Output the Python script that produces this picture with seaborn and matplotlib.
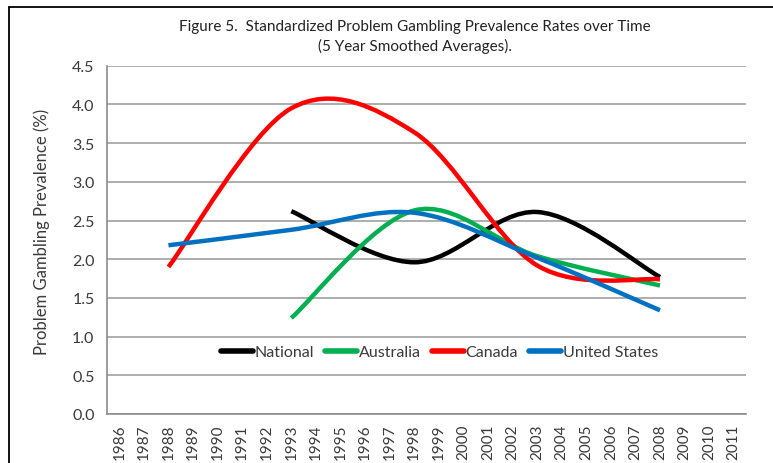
import numpy as np
import pandas as pd
import matplotlib
matplotlib.use("Agg")
import matplotlib.pyplot as plt
import seaborn as sns
from matplotlib.path import Path
from matplotlib.patches import PathPatch
from matplotlib.lines import Line2D
from matplotlib.ticker import FixedLocator

# ---- data ----
axis_years = list(range(1986, 2012))
survey_years = [1988, 1993, 1998, 2003, 2008]
national = [np.nan, 2.62, 1.96, 2.61, 1.77]
australia = [np.nan, 1.24, 2.63, 2.04, 1.66]
canada = [1.90, 3.95, 3.64, 1.92, 1.74]
united_states = [2.18, 2.38, 2.60, 2.02, 1.34]
y_ticks = [0.0, 0.5, 1.0, 1.5, 2.0, 2.5, 3.0, 3.5, 4.0, 4.5]
series_names = ["National", "Australia", "Canada", "United States"]
series_colors = ["#000000", "#00B050", "#FF0000", "#0070C0"]
title_text = "Figure 5.  Standardized Problem Gambling Prevalence Rates over Time\n(5 Year Smoothed Averages)."
ylabel_text = "Problem Gambling Prevalence (%)"

rows = []
for name, vals in zip(series_names, [national, australia, canada, united_states]):
    for yr, v in zip(survey_years, vals):
        if not np.isnan(v):
            rows.append({"year": yr, "value": v, "series": name})
df = pd.DataFrame(rows)

sns.set_theme(style="white")
plt.rcParams["font.family"] = ["Lato", "DejaVu Sans"]
text_color = "#3a3a3a"

W, H = 773, 464
fig = plt.figure(figsize=(W / 100, H / 100), dpi=100)
ax = fig.add_axes([107 / W, 1 - 415 / H, (746 - 107) / W, (415 - 66.7) / H])

palette = dict(zip(series_names, series_colors))
sns.lineplot(data=df, x="year", y="value", hue="series", hue_order=series_names,
             palette=palette, linewidth=3.2, legend=False, ax=ax, sort=True)


def smooth_path(pts):
    pts = np.asarray(pts, dtype=float)
    n = len(pts)
    verts = [pts[0]]
    codes = [Path.MOVETO]
    for i in range(n - 1):
        p0 = pts[i - 1] if i > 0 else pts[i]
        p1 = pts[i]
        p2 = pts[i + 1]
        p3 = pts[i + 2] if i + 2 < n else pts[i + 1]
        c1 = p1 + (p2 - p0) / 6.0
        c2 = p2 - (p3 - p1) / 6.0
        verts += [c1, c2, p2]
        codes += [Path.CURVE4] * 3
    return Path(verts, codes)


for line in list(ax.lines):
    xy = line.get_xydata()
    col = line.get_color()
    lw = line.get_linewidth()
    line.set_visible(False)
    patch = PathPatch(smooth_path(xy), facecolor="none", edgecolor=col,
                      linewidth=lw, capstyle="butt", joinstyle="round", zorder=3)
    ax.add_patch(patch)

# axes styling
ax.set_xlim(axis_years[0] - 0.5, axis_years[-1] + 0.5)
ax.set_ylim(0, 4.5)
ax.yaxis.set_major_locator(FixedLocator(y_ticks))
ax.set_yticklabels([f"{v:.1f}" for v in y_ticks])
ax.xaxis.set_major_locator(FixedLocator(axis_years))
ax.set_xticklabels([str(y) for y in axis_years], rotation=90)
ax.xaxis.set_minor_locator(FixedLocator([y + 0.5 for y in [axis_years[0] - 1] + axis_years]))
ax.tick_params(axis="x", which="major", length=0, pad=7, labelsize=11, labelcolor=text_color)
ax.tick_params(axis="x", which="minor", length=5, width=1, color="#8c8c8c", direction="out")
ax.tick_params(axis="y", which="major", length=5, width=1, color="#8c8c8c", direction="out",
               pad=4, labelsize=11.5, labelcolor=text_color)
ax.set_xlabel("")
ax.set_ylabel("")
ax.grid(axis="y", color="#a0a0a0", linewidth=1.2)
ax.grid(axis="x", visible=False)
ax.set_axisbelow(True)
for side in ["top", "right"]:
    ax.spines[side].set_visible(False)
for side in ["left", "bottom"]:
    ax.spines[side].set_color("#8c8c8c")
    ax.spines[side].set_linewidth(1.2)

handles = [Line2D([0], [0], color=c, linewidth=4) for c in series_colors]
ax.legend(handles, series_names, loc="center", bbox_to_anchor=(0.52, 0.178), ncol=4,
          frameon=False, fontsize=11.5, handlelength=2.0, handletextpad=0.1,
          columnspacing=0.7, labelcolor=text_color)

fig.text(415 / W, 1 - 37 / H, title_text, ha="center", va="center", fontsize=11,
         color="#222222", linespacing=1.4)
fig.text(42 / W, 1 - 232 / H, ylabel_text, rotation=90, ha="center", va="center",
         fontsize=12, color=text_color)

# chart frame (cropped: top and left edges visible)
fig.add_artist(Line2D([9 / W, 1.0], [1 - 8 / H, 1 - 8 / H], transform=fig.transFigure,
                      color="black", linewidth=1.3))
fig.add_artist(Line2D([9 / W, 9 / W], [0, 1 - 8 / H], transform=fig.transFigure,
                      color="black", linewidth=1.3))

fig.savefig("out.png", dpi=100)
